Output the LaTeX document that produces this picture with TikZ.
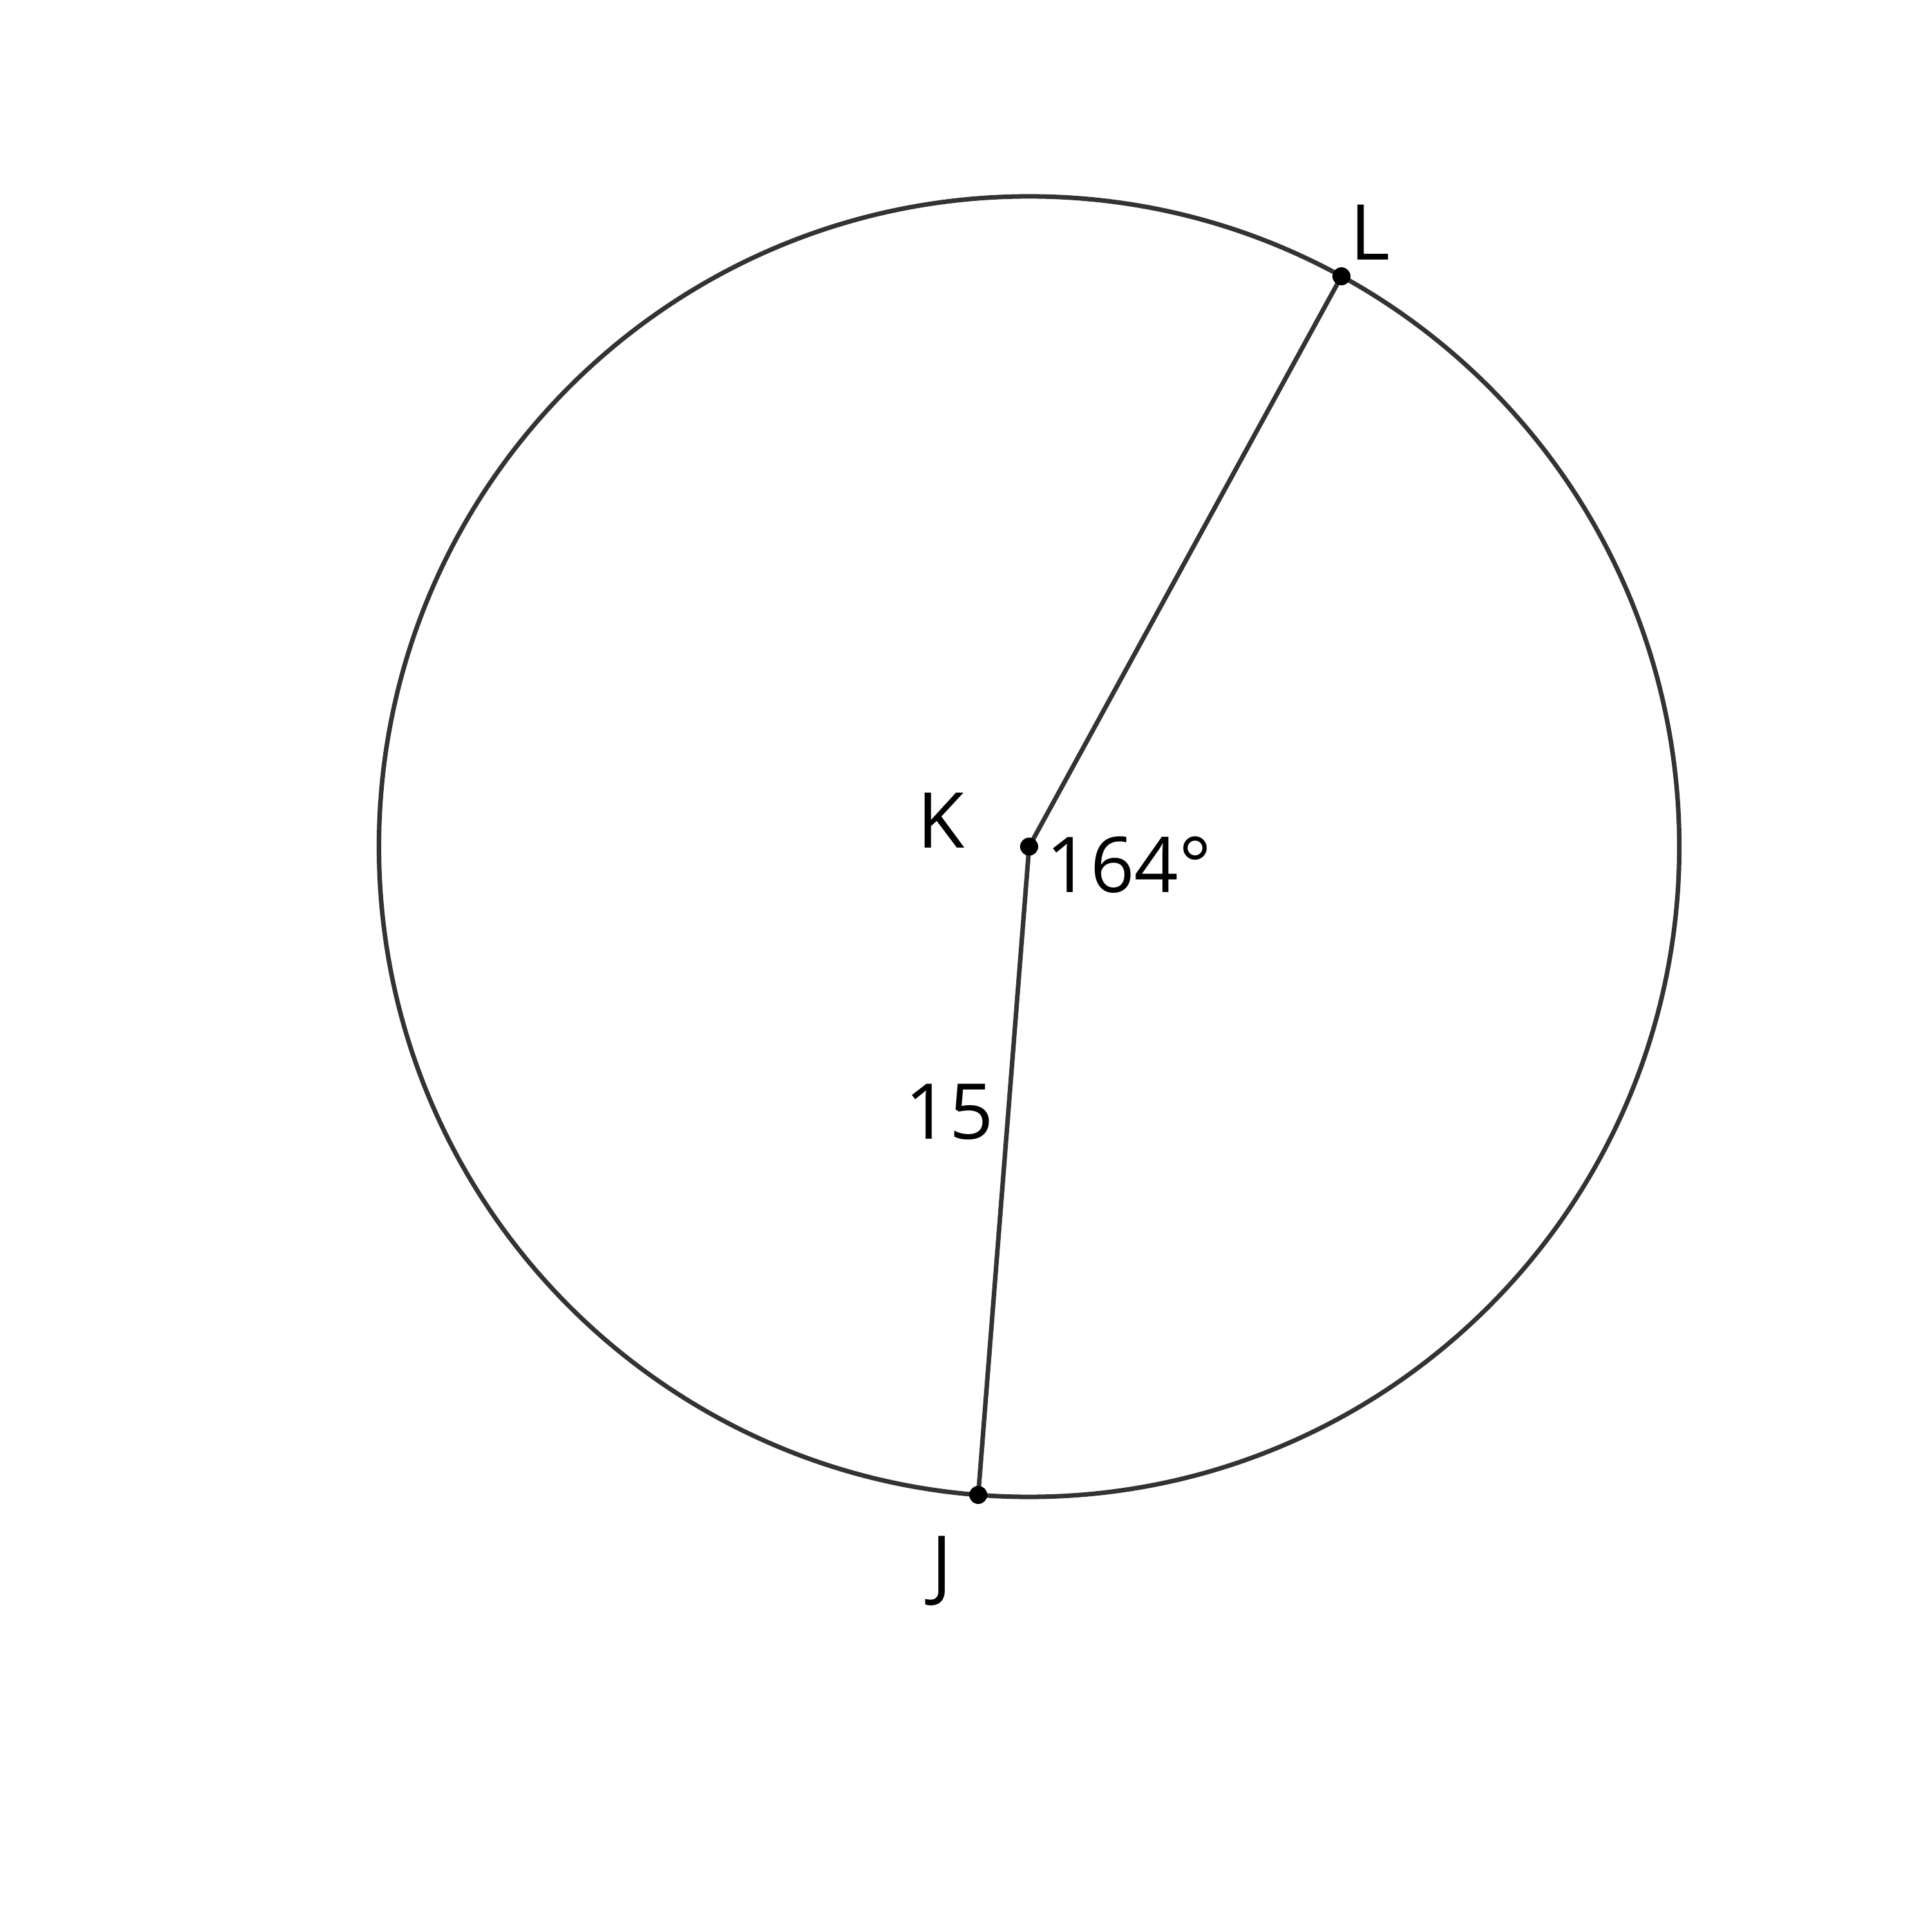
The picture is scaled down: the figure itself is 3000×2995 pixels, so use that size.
\documentclass[tikz,border=0pt]{standalone}
\usepackage{fontspec}
\setmainfont{Open Sans}
\definecolor{linegray}{HTML}{333333}
\tikzset{
  geoline/.style={draw=linegray, line width=2pt},
  ptdot/.style={fill=black},
  lbl/.style={inner sep=0pt, font=\fontsize{34}{40}\selectfont, anchor=base}
}
\begin{document}
\begin{tikzpicture}[x=0.01cm,y=-0.01cm]
\useasboundingbox (0,0) rectangle (3000,2995);
\coordinate (K) at (1598,1314.5);
\coordinate (L) at (2083,429);
\coordinate (J) at (1519,2321);
\draw[geoline] (K) circle[radius=10.09cm];
\draw[geoline] (K) -- (L);
\draw[geoline] (K) -- (J);
\fill[ptdot] (K) circle[radius=0.14cm];
\fill[ptdot] (L) circle[radius=0.14cm];
\fill[ptdot] (J) circle[radius=0.14cm];
\node[lbl] (labK) at (1461,1316) {K};
\node[lbl] (labL) at (2128,404) {L};
\node[lbl] (labJ) at (1462,2470) {J};
\node[lbl] (labA) at (1753,1385) {164°};
\node[lbl] (lab15) at (1474,1768) {15};
\end{tikzpicture}
\end{document}
